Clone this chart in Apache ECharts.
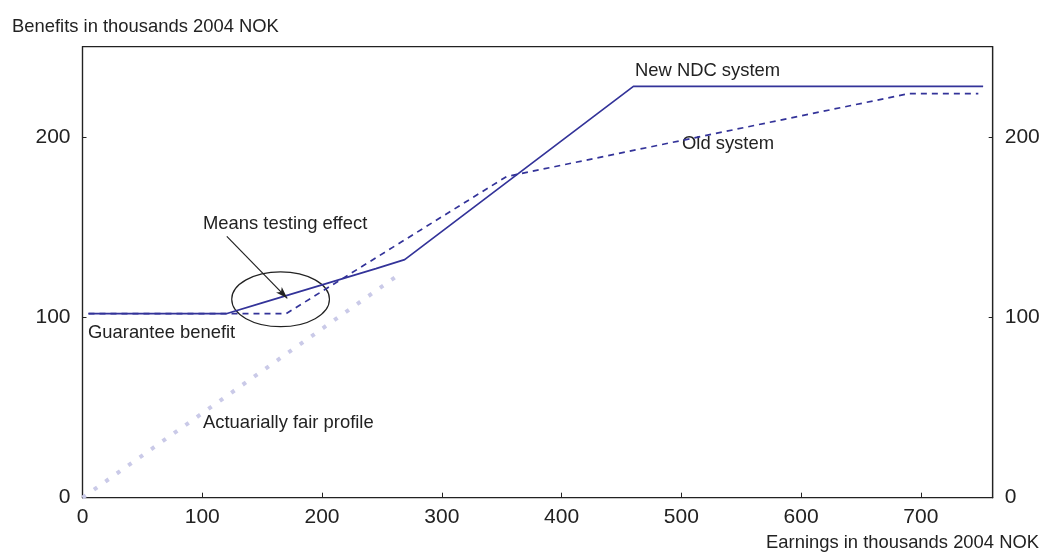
<!DOCTYPE html>
<html>
<head>
<meta charset="utf-8">
<script src="https://cdn.jsdelivr.net/npm/echarts@6/dist/echarts.min.js"></script>
<style>
  html, body { margin: 0; padding: 0; background: #fff; }
  #main { width: 1044px; height: 556px; }
</style>
</head>
<body>
<div id="main"></div>
<script>
// data (earnings / benefits, thousands 2004 NOK)
var earnNew = [5, 120, 150, 200, 245, 269, 460, 752];
var benefitNew = [102, 102, 108, 118, 127, 132, 228, 228];
var earnOld = [5, 170, 354, 690, 748];
var benefitOld = [102, 102, 178, 224, 224];
var earnFair = [0, 267];
var benefitFair = [0, 125];

var FONT = 'Liberation Sans, Arial, sans-serif';
var INK = '#222';
var BLUE = '#333399';

function pairs(xs, ys) {
    return xs.map(function (x, i) { return [x, ys[i]]; });
}

var chart = echarts.init(document.getElementById('main'));

function yAxis(pos) {
    return {
        type: 'value', position: pos, min: 0, max: 250, interval: 100,
        axisLine: { show: true, lineStyle: { color: INK, width: 1.2 } },
        axisTick: { show: true, inside: true, length: 4, lineStyle: { color: INK } },
        axisLabel: { showMaxLabel: false, fontSize: 21, color: INK, fontFamily: FONT, margin: 12 },
        splitLine: { show: false }
    };
}

var option = {
    animation: false,
    grid: { left: 82.5, right: 51.3, top: 46.7, bottom: 58.3, show: true, borderColor: INK, borderWidth: 1.2 },
    xAxis: {
        type: 'value', min: 0, max: 760, interval: 100,
        axisLine: { lineStyle: { color: INK, width: 1.2 } },
        axisTick: { inside: true, length: 5, lineStyle: { color: INK } },
        axisLabel: { showMaxLabel: false, fontSize: 21, color: INK, fontFamily: FONT, margin: 9 },
        splitLine: { show: false }
    },
    yAxis: [yAxis('left'), yAxis('right')],
    series: [
        {
            name: 'Actuarially fair profile', type: 'line', showSymbol: false,
            data: pairs(earnFair, benefitFair),
            lineStyle: { color: '#cacae8', width: 4, type: [4, 10], cap: 'butt' }
        },
        {
            name: 'Old system', type: 'line', showSymbol: false,
            data: pairs(earnOld, benefitOld),
            lineStyle: { color: BLUE, width: 1.7, type: [6, 5] }
        },
        {
            name: 'New NDC system', type: 'line', showSymbol: false,
            data: pairs(earnNew, benefitNew),
            lineStyle: { color: BLUE, width: 1.7 },
            markLine: {
                silent: true, symbol: ['none', 'arrow'], symbolSize: [6, 12],
                label: { show: false },
                lineStyle: { color: INK, width: 1.2, type: 'solid' },
                data: [[{ coord: [120.5, 144.9] }, { coord: [171, 110.5] }]]
            }
        }
    ]
};
chart.setOption(option);

// annotation ellipse around the means-testing kink
var c = chart.convertToPixel({ gridIndex: 0 }, [165.4, 110]);
var e = chart.convertToPixel({ gridIndex: 0 }, [206.2, 125.2]);

function label(text, x, y, align) {
    return {
        type: 'text', x: x, y: y,
        style: { text: text, fill: INK, font: '18.4px ' + FONT, textAlign: align || 'left', textVerticalAlign: 'middle' }
    };
}

chart.setOption({
    graphic: [
        {
            type: 'ellipse',
            shape: { cx: c[0], cy: c[1], rx: e[0] - c[0], ry: c[1] - e[1] },
            style: { fill: 'none', stroke: INK, lineWidth: 1.2 }
        },
        label('Benefits in thousands 2004 NOK', 12, 27),
        label('Earnings in thousands 2004 NOK', 1039, 543, 'right'),
        label('New NDC system', 635, 71),
        label('Old system', 682, 144),
        label('Means testing effect', 203, 224),
        label('Guarantee benefit', 88, 333),
        label('Actuarially fair profile', 203, 423)
    ]
});
</script>
</body>
</html>
